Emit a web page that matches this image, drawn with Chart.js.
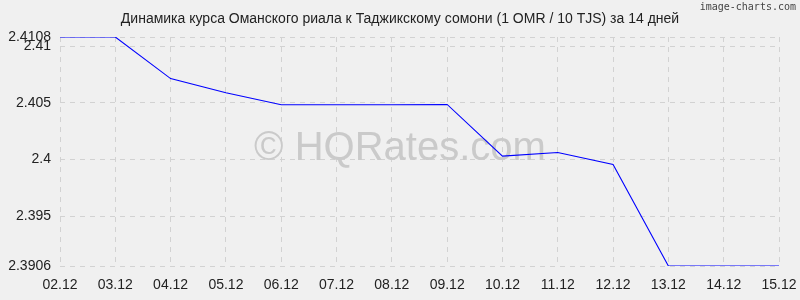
<!DOCTYPE html>
<html>
<head>
<meta charset="utf-8">
<script src="https://cdn.jsdelivr.net/npm/chart.js@4/dist/chart.umd.min.js"></script>
<style>
  html, body { margin: 0; padding: 0; background: #f0f0f0; }
  #wrap { width: 800px; height: 300px; position: relative; }
</style>
</head>
<body>
<div id="wrap"><canvas id="rateChart"></canvas></div>
<script>
// Данные графика
const chartTitle = 'Динамика курса Оманского риала к Таджикскому сомони (1 OMR / 10 TJS) за 14 дней';
const dates = ["02.12", "03.12", "04.12", "05.12", "06.12", "07.12", "08.12",
               "09.12", "10.12", "11.12", "12.12", "13.12", "14.12", "15.12"];
const rates = [2.4108, 2.4108, 2.40713, 2.40588, 2.40482, 2.40482, 2.40482,
               2.40485, 2.40029, 2.40061, 2.39956, 2.3906, 2.3906, 2.3906];
const yTicks = [2.3906, 2.395, 2.4, 2.405, 2.41, 2.4108];

Chart.defaults.font.family = '"Liberation Sans", Arial, sans-serif';
Chart.defaults.color = '#222';

// Заголовок по центру холста, водяной знак и подпись сервиса
const decorations = {
    id: 'decorations',
    beforeDatasetsDraw(chart) {
        const ctx = chart.ctx;
        ctx.save();
        ctx.fillStyle = '#cacaca';
        ctx.font = '40px "Liberation Sans", Arial, sans-serif';
        ctx.textAlign = 'center';
        ctx.textBaseline = 'alphabetic';
        ctx.fillText('© HQRates.com', 400, 160);
        ctx.restore();
    },
    afterDraw(chart) {
        const ctx = chart.ctx;
        ctx.save();
        ctx.fillStyle = '#222';
        ctx.font = '14px "Liberation Sans", Arial, sans-serif';
        ctx.textAlign = 'center';
        ctx.textBaseline = 'middle';
        ctx.fillText(chartTitle, 400, 19);

        ctx.fillStyle = '#444';
        ctx.font = '10px "DejaVu Sans Mono", monospace';
        ctx.textAlign = 'right';
        ctx.textBaseline = 'top';
        ctx.fillText('image-charts.com', 796, 2);
        ctx.restore();
    }
};

const rateCtx = document.getElementById('rateChart').getContext('2d');
const rateChart = new Chart(rateCtx, {
    type: 'line',
    data: {
        labels: dates,
        datasets: [{
            data: rates,
            borderColor: '#0000ff',
            borderWidth: 1.1,
            pointRadius: 0,
            tension: 0,
            fill: false
        }]
    },
    options: {
        responsive: true,
        maintainAspectRatio: false,
        animation: false,
        layout: {
            padding: { top: 37, right: 21, left: 0, bottom: 0 }
        },
        plugins: {
            legend: { display: false },
            tooltip: { enabled: false },
            title: { display: false }
        },
        scales: {
            x: {
                offset: false,
                grid: {
                    color: '#d2d2d2',
                    drawTicks: false
                },
                border: { display: false, dash: [5, 5] },
                ticks: {
                    font: { size: 14 },
                    color: '#222',
                    maxRotation: 0,
                    autoSkip: false,
                    padding: 11
                },
                afterFit(scale) {
                    scale.height = 34;
                    scale.paddingLeft = 0;
                    scale.paddingRight = 0;
                }
            },
            y: {
                min: 2.3906,
                max: 2.4108,
                grid: {
                    color: '#d2d2d2',
                    drawTicks: false
                },
                border: { display: false, dash: [5, 5] },
                ticks: {
                    font: { size: 14 },
                    color: '#222',
                    padding: 9,
                    callback: (v) => String(Number(v.toFixed(4)))
                },
                afterBuildTicks(scale) {
                    scale.ticks = yTicks.map(v => ({ value: v }));
                },
                afterFit(scale) {
                    scale.width = 60;
                    scale.paddingTop = 0;
                    scale.paddingBottom = 0;
                }
            }
        }
    },
    plugins: [decorations]
});
</script>
</body>
</html>
